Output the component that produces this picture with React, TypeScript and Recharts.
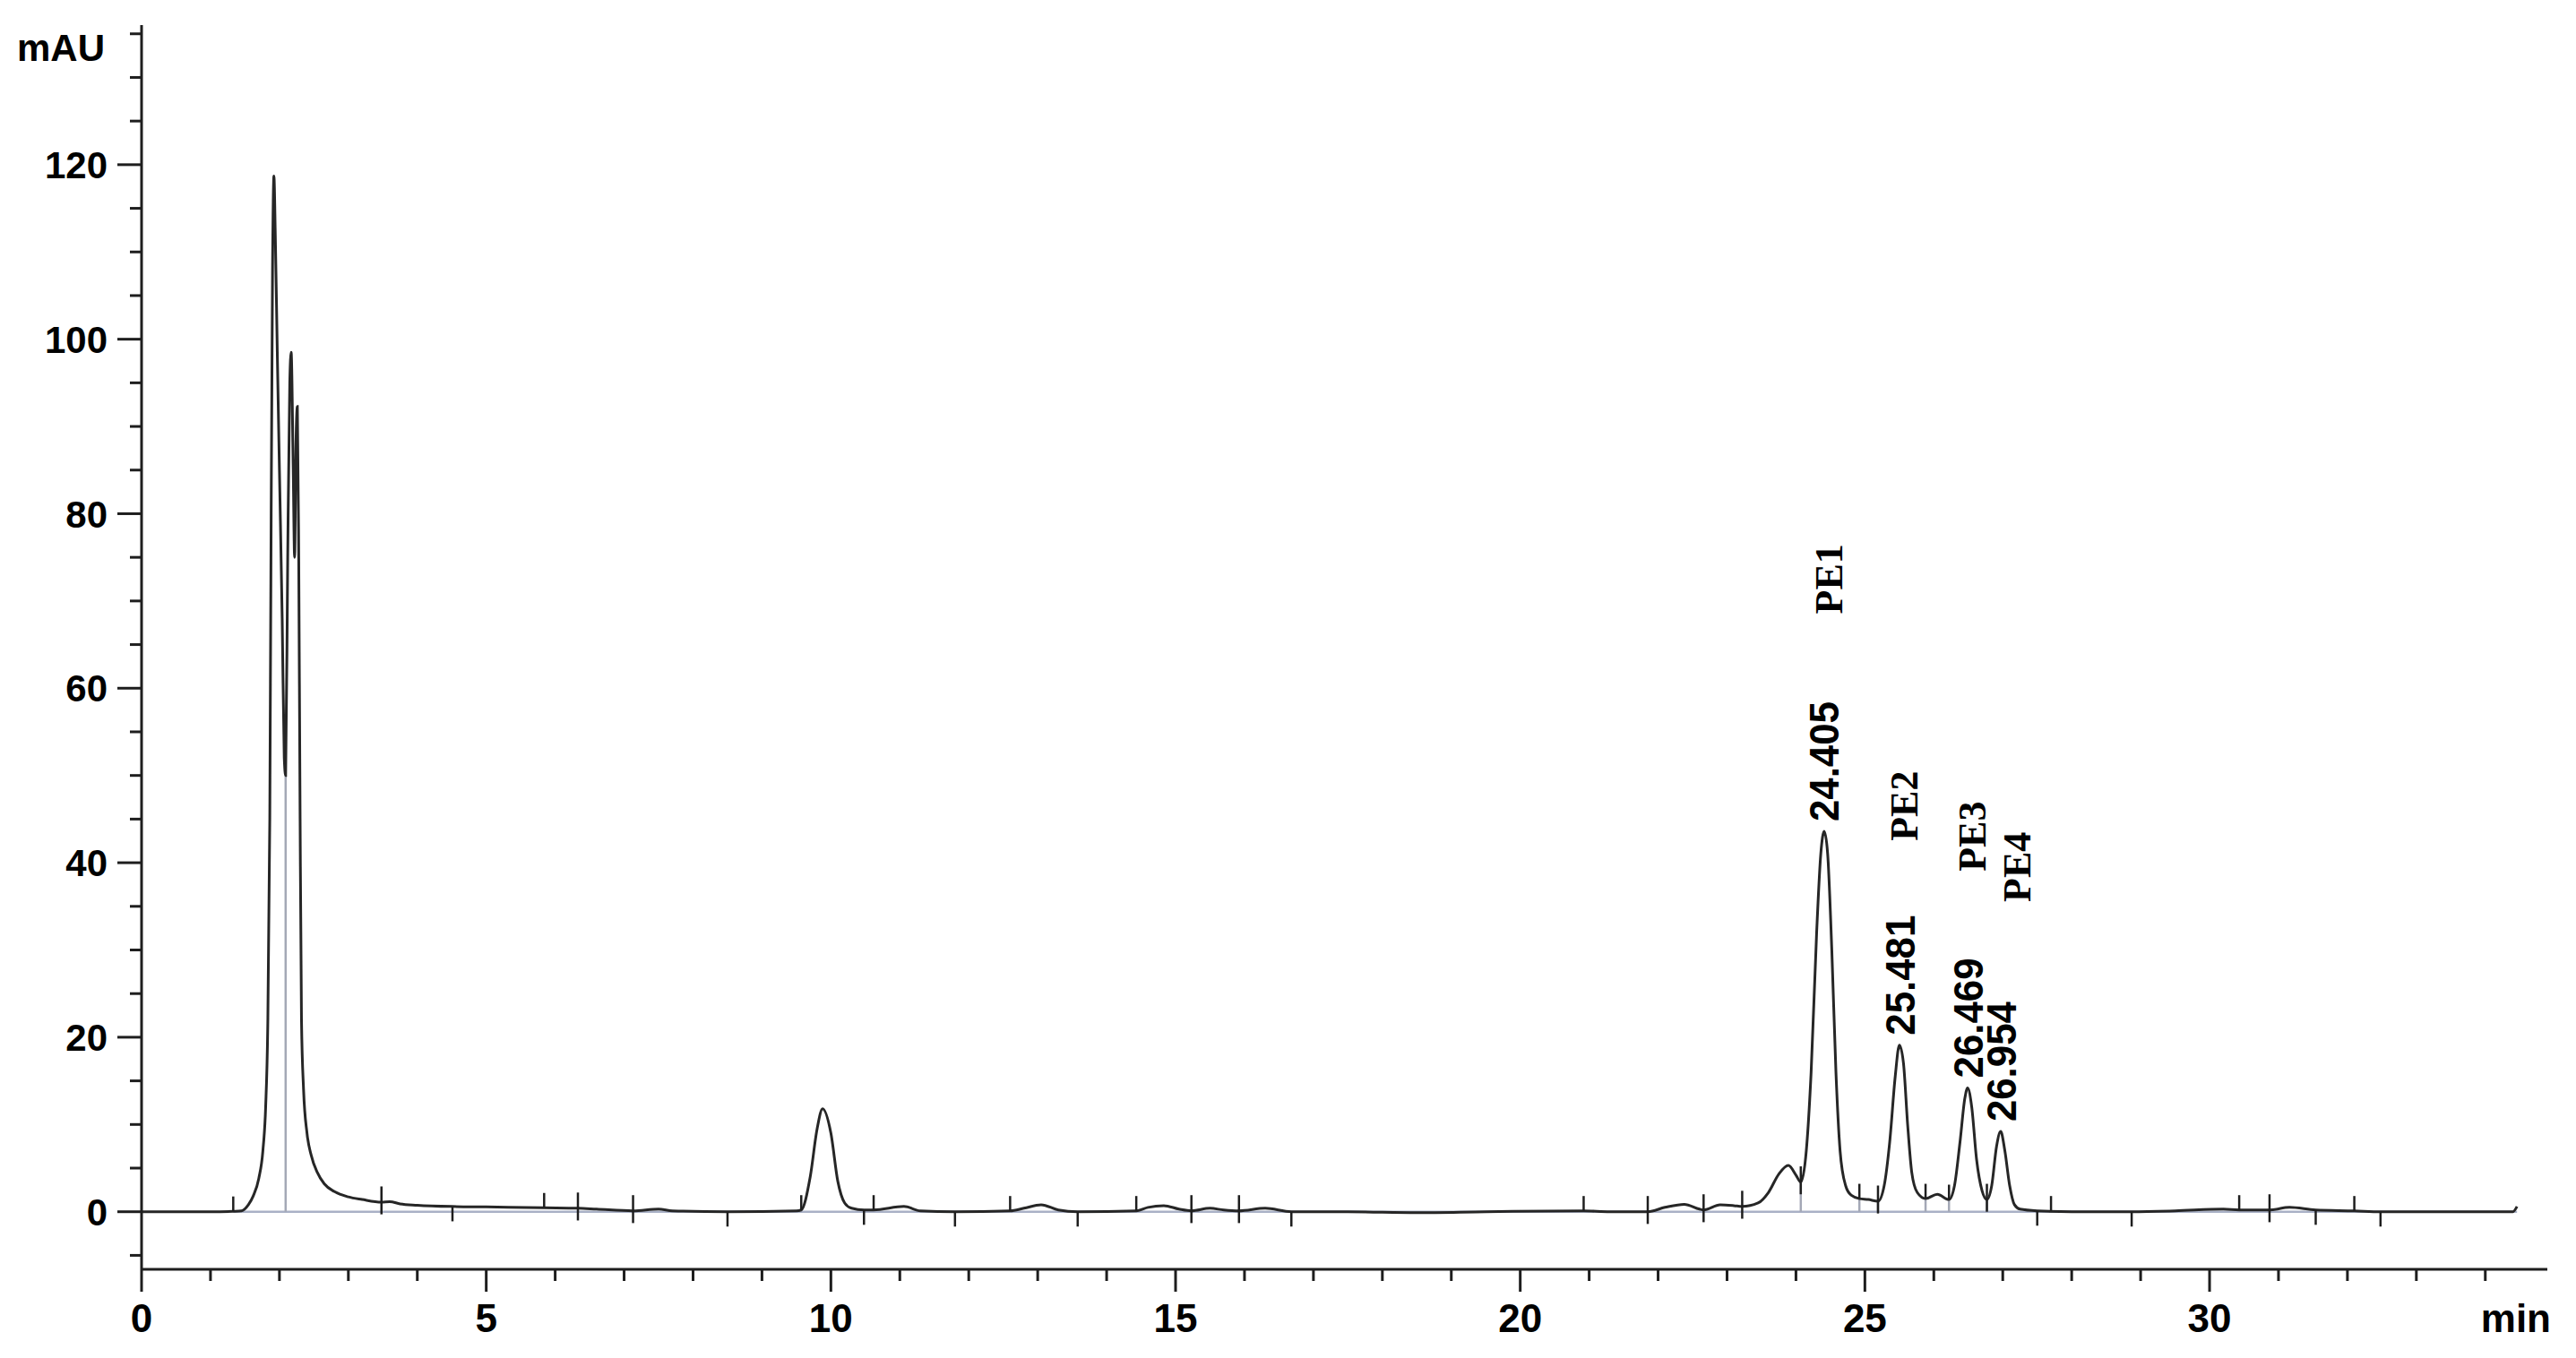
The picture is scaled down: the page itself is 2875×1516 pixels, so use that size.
import React from 'react';
import { LineChart, Line, XAxis, YAxis, ReferenceLine, ReferenceDot } from 'recharts';

// retention time (min) and detector signal (mAU)
const traceTime = [
  0, 1.0, 1.33, 1.45, 1.55, 1.62, 1.7, 1.76, 1.8, 1.83, 1.86, 1.88, 1.9, 1.92, 1.94, 1.97, 2.0, 2.04, 2.07, 2.09,
  2.12, 2.15, 2.17, 2.2, 2.22, 2.24, 2.26, 2.28, 2.3, 2.32, 2.35, 2.4, 2.46, 2.55, 2.65, 2.8, 3.0, 3.2, 3.48, 3.6,
  3.75, 4.0, 4.5, 5.0, 5.84, 6.33, 6.6, 7.13, 7.5, 7.7, 8.5, 9.5, 9.57, 9.7, 9.8, 9.88, 10.0, 10.1, 10.2, 10.3,
  10.48, 10.62, 11.06, 11.3, 11.8, 12.6, 12.8, 13.05, 13.3, 13.58, 14.43, 14.6, 14.83, 15.05, 15.23, 15.5, 15.7,
  15.92, 16.3, 16.68, 17.5, 18.5, 19.5, 20.92, 21.3, 21.85, 22.1, 22.38, 22.6, 22.66, 22.9, 23.1, 23.22, 23.45,
  23.6, 23.75, 23.89, 24.0, 24.07, 24.15, 24.22, 24.3, 24.36, 24.41, 24.46, 24.52, 24.58, 24.64, 24.72, 24.8,
  24.92, 25.05, 25.19, 25.28, 25.36, 25.44, 25.5, 25.56, 25.62, 25.68, 25.76, 25.88, 26.05, 26.22, 26.3, 26.38,
  26.45, 26.49, 26.55, 26.62, 26.7, 26.77, 26.84, 26.91, 26.97, 27.03, 27.1, 27.17, 27.25, 27.5, 28.0, 28.87,
  29.5, 30.2, 30.43, 30.87, 31.16, 31.54, 32.1, 32.48, 33.5, 34.4, 34.46,
];
const traceMAU = [
  0, 0, 0.05, 0.1, 0.8, 1.8, 3.8, 7, 12, 21, 45, 80, 108, 118.7, 112, 98, 85, 68, 52, 50,
  75, 95, 98.5, 85, 75, 88, 92.3, 75, 45, 22, 14, 9, 6.5, 4.5, 3.2, 2.3, 1.7, 1.4, 1.1, 1.15,
  0.9, 0.75, 0.6, 0.55, 0.45, 0.4, 0.3, 0.1, 0.3, 0.1, 0, 0.1, 0.2, 4, 9.5, 11.8, 9, 3.5, 1, 0.4,
  0.2, 0.2, 0.6, 0.1, 0, 0.1, 0.4, 0.8, 0.2, 0, 0.1, 0.5, 0.7, 0.3, 0.1, 0.4, 0.2,
  0.1, 0.4, 0, 0, -0.1, 0, 0.1, 0, 0, 0.5, 0.85, 0.3, 0.2, 0.8, 0.7, 0.6, 1.0,
  2.2, 4.3, 5.3, 4.2, 3.4, 7, 16, 32, 41, 43.6, 41, 30, 16, 7, 3, 1.9,
  1.5, 1.4, 1.2, 3, 8, 15.5, 19.1, 17, 10, 4.5, 2.2, 1.5, 2.0, 1.4, 3, 8,
  13, 14.2, 12, 6, 2.4, 1.4, 3, 7.5, 9.2, 7, 3, 0.8, 0.3, 0.1, 0, 0,
  0.1, 0.3, 0.2, 0.2, 0.5, 0.2, 0.1, 0, 0, 0, 0.6,
];

// integration event marks along the trace
const eventTimes = [1.33, 3.48, 4.51, 5.84, 6.33, 7.13, 8.5, 9.57, 10.48, 10.62, 11.8, 12.6, 13.58, 14.43, 15.23, 15.92, 16.68, 20.92, 21.85, 22.66, 23.22, 24.07, 24.92, 25.19, 25.88, 26.22, 26.77, 27.5, 27.7, 28.87, 30.43, 30.87, 31.54, 32.1, 32.48];
const eventLevels = [0.05, 1.1, 0.6, 0.45, 0.4, 0.1, 0, 0.2, 0.2, 0.2, 0, 0.1, 0, 0.1, 0.1, 0.1, 0, 0.1, 0, 0.2, 0.6, 3.4, 1.5, 1.2, 1.5, 1.4, 1.4, 0.1, 0.1, 0, 0.2, 0.2, 0.2, 0.1, 0];
const eventKinds = ['up', 'cross', 'down', 'up', 'cross', 'cross', 'down', 'up', 'down', 'up', 'down', 'up', 'down', 'up', 'cross', 'cross', 'down', 'up', 'cross', 'cross', 'cross', 'cross', 'up', 'cross', 'up', 'up', 'cross', 'down', 'up', 'down', 'up', 'cross', 'down', 'up', 'down'];

// drop lines from baseline to valley
const dropTimes = [2.09, 24.07, 24.92, 25.19, 25.88, 26.22, 26.77];
const dropLevels = [50, 3.4, 1.5, 1.2, 1.5, 1.4, 1.4];

// retention time annotations
const peakTimes = [24.405, 25.5, 26.49, 26.97];
const peakHeights = [43.6, 19.1, 14.2, 9.2];
const peakLabels = ['24.405', '25.481', '26.469', '26.954'];
const nameTimes = [24.47, 25.56, 26.54, 27.19];
const nameLevels = [68.5, 42.5, 39.0, 35.5];
const peakNames = ['PE1', 'PE2', 'PE3', 'PE4'];

const xTicks = [...Array.from({ length: 35 }, (_, i) => i), 34.9];
const yTicks = Array.from({ length: 29 }, (_, i) => -5 + i * 5);

const data = traceTime.map((t, i) => ({ t, v: traceMAU[i] }));

const INK = '#1e1e1e';
const SANS = '"Liberation Sans", Arial, sans-serif';
const SERIF = '"Liberation Serif", "Times New Roman", serif';

const YTick = (props: any) => {
  const { x, y, payload } = props;
  const v = payload.value;
  const major = v >= 0 && v <= 120 && v % 20 === 0;
  return (
    <g>
      <line x1={x - (major ? 27 : 13)} x2={x} y1={y} y2={y} stroke={INK} strokeWidth={3} />
      {major && (
        <text x={x - 38} y={y} dy="0.36em" textAnchor="end" fontFamily={SANS} fontWeight="bold" fontSize={42} fill="#000">
          {v}
        </text>
      )}
    </g>
  );
};

const XTick = (props: any) => {
  const { x, y, payload } = props;
  const v = payload.value;
  if (v > 34.5) {
    return (
      <text x={x + 4} y={y + 70} textAnchor="end" fontFamily={SANS} fontWeight="bold" fontSize={44} fill="#000">
        min
      </text>
    );
  }
  const major = v % 5 === 0;
  return (
    <g>
      <line x1={x} x2={x} y1={y} y2={y + (major ? 25 : 13)} stroke={INK} strokeWidth={3} />
      {major && (
        <text x={x} y={y + 70} textAnchor="middle" fontFamily={SANS} fontWeight="bold" fontSize={44} fill="#000">
          {v}
        </text>
      )}
    </g>
  );
};

const rotatedText = (label: string, gap: number, family: string, size: number, length?: number) => (p: any) => {
  const cx = p.cx;
  const cy = p.cy - gap;
  return (
    <text
      x={cx}
      y={cy}
      dy="0.36em"
      transform={`rotate(-90, ${cx}, ${cy})`}
      textAnchor="start"
      fontFamily={family}
      fontWeight="bold"
      fontSize={size}
      fill="#000"
      textLength={length}
      lengthAdjust={length ? 'spacingAndGlyphs' : undefined}
    >
      {label}
    </text>
  );
};

const markSpan = (kind: string, level: number) => {
  if (kind === 'up') return [level, level + 1.7];
  if (kind === 'down') return [level - 1.7, level];
  return [level - 1.4, level + 1.8];
};

export default function App() {
  return (
    <div style={{ width: 2859, height: 1500, background: '#fff' }}>
      <LineChart width={2859} height={1500} data={data} margin={{ top: 20, right: 24, bottom: 0, left: 0 }}>
        <XAxis
          dataKey="t"
          type="number"
          domain={[0, 34.9]}
          ticks={xTicks}
          interval={0}
          allowDataOverflow
          height={91}
          tickSize={0}
          tickMargin={0}
          tickLine={false}
          axisLine={{ stroke: INK, strokeWidth: 3 }}
          tick={<XTick />}
        />
        <YAxis
          type="number"
          domain={[-6.6, 136]}
          ticks={yTicks}
          interval={0}
          allowDataOverflow
          width={150}
          tickSize={0}
          tickMargin={0}
          tickLine={false}
          axisLine={{ stroke: INK, strokeWidth: 3 }}
          tick={<YTick />}
          label={{
            content: (p: any) => (
              <text x={p.viewBox.x + 109} y={p.viewBox.y + 40} textAnchor="end" fontFamily={SANS} fontWeight="bold" fontSize={42} fill="#000">
                mAU
              </text>
            ),
          }}
        />
        <ReferenceLine
          segment={[{ x: 1.33, y: 0 }, { x: 34.46, y: 0 }]}
          stroke="#a9b1c6"
          strokeWidth={2.5}
        />
        {dropTimes.map((t, i) => (
          <ReferenceLine
            key={`drop-${i}`}
            segment={[{ x: t, y: 0 }, { x: t, y: dropLevels[i] }]}
            stroke="#a4a8b6"
            strokeWidth={2.5}
          />
        ))}
        <Line
          type="monotone"
          dataKey="v"
          stroke="#262626"
          strokeWidth={3}
          dot={false}
          isAnimationActive={false}
        />
        {eventTimes.map((t, i) => {
          const [a, b] = markSpan(eventKinds[i], eventLevels[i]);
          return (
            <ReferenceLine
              key={`ev-${i}`}
              segment={[{ x: t, y: a }, { x: t, y: b }]}
              stroke={INK}
              strokeWidth={2.5}
            />
          );
        })}
        {peakTimes.map((t, i) => (
          <ReferenceDot
            key={`rt-${i}`}
            x={t}
            y={peakHeights[i]}
            r={0}
            shape={rotatedText(peakLabels[i], 11, SANS, 47, 134)}
          />
        ))}
        {nameTimes.map((t, i) => (
          <ReferenceDot
            key={`pe-${i}`}
            x={t}
            y={nameLevels[i]}
            r={0}
            shape={rotatedText(peakNames[i], 0, SERIF, 44)}
          />
        ))}
      </LineChart>
    </div>
  );
}
